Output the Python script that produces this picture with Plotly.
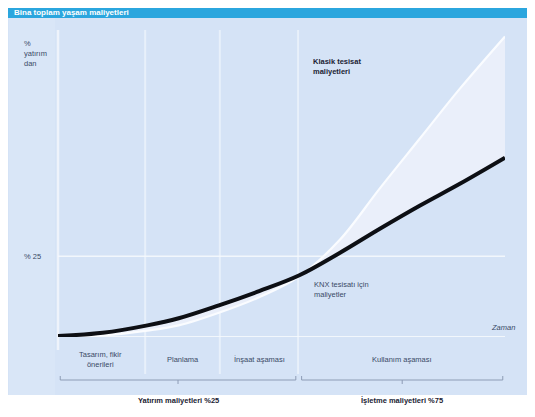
import plotly.graph_objects as go

# ---- data (time as % of life span, cost as % of total) ----
time_pct = [0, 10, 20, 27, 36, 45, 54, 63, 72, 81, 90, 100]
knx_cost = [0.3, 1.3, 3.6, 5.8, 9.8, 14.2, 19.1, 26.0, 33.5, 40.7, 47.5, 55.5]
classic_cost = [0.0, 0.5, 2.0, 3.6, 7.5, 12.3, 18.8, 30.0, 46.0, 61.5, 77.0, 93.0]

phase_bounds = [19.5, 36.2, 53.7]
y_tick_value = 25
y_tick_label = "% 25"
phase_labels = ["Tasarım, fikir<br>önerileri", "Planlama", "İnşaat aşaması", "Kullanım aşaması"]
phase_centers = [9.5, 28, 45, 77]
group_labels = ["Yatırım maliyetleri %25", "İşletme maliyetleri %75"]
group_spans = [(0.5, 53.2), (54.5, 99.5)]

# page body has an 8px margin, so the figure is sized to fill the rest of the window
OFF = 8
W, H = 535 - OFF, 417 - OFF
ML, MR, MT, MB = 58 - OFF, 30, 30 - OFF, 80
PW, PH = W - ML - MR, H - MT - MB
X0P, Y0P = ML + OFF, MT + OFF + PH  # window pixel of plot origin


def px(xp):
    return (xp - X0P) / PW


def py(yp):
    return (Y0P - yp) / PH


FONT = "Liberation Sans, Arial, sans-serif"
TXT = "#3a4a66"

fig = go.Figure()
fig.add_trace(go.Scatter(x=time_pct, y=classic_cost, mode="lines",
                         line=dict(color="#fafcff", width=2.2, shape="spline"),
                         hoverinfo="skip", showlegend=False))
fig.add_trace(go.Scatter(x=time_pct, y=knx_cost, mode="lines",
                         line=dict(color="#0d0f14", width=4, shape="spline"),
                         fill="tonexty", fillcolor="#eaeffa",
                         hoverinfo="skip", showlegend=False))

shapes = []
# panel background
shapes.append(dict(type="rect", xref="paper", yref="paper", x0=px(8), x1=px(535),
                   y0=py(395), y1=py(18), fillcolor="#d5e3f6", line_width=0, layer="below"))
# title bar
shapes.append(dict(type="rect", xref="paper", yref="paper", x0=px(8), x1=px(535),
                   y0=py(18), y1=py(8), fillcolor="#2ba6de", line_width=0, layer="below"))
# lighter column left of axis
shapes.append(dict(type="rect", xref="paper", yref="paper", x0=px(9), x1=px(55),
                   y0=py(395), y1=py(18), fillcolor="#d9e6f7", line_width=0, layer="below"))
# y axis line
shapes.append(dict(type="line", xref="paper", yref="paper", x0=0, x1=0,
                   y0=py(350), y1=py(30), line=dict(color="#eef3fb", width=2.5), layer="below"))
# phase separators
for b in phase_bounds:
    shapes.append(dict(type="line", xref="x", yref="paper", x0=b, x1=b,
                       y0=py(374), y1=py(30), line=dict(color="rgba(240,245,252,0.7)", width=2),
                       layer="below"))
# horizontal lines
for yv in [0, y_tick_value]:
    shapes.append(dict(type="line", xref="x", yref="y", x0=0, x1=100, y0=yv, y1=yv,
                       line=dict(color="rgba(245,248,253,0.9)", width=2 if yv == 0 else 1.5),
                       layer="below"))
# brackets
for (a, b) in group_spans:
    yb = py(380)
    shapes.append(dict(type="line", xref="x", yref="paper", x0=a, x1=b, y0=yb, y1=yb,
                       line=dict(color="#8d9cb5", width=1)))
    for e in (a, b):
        shapes.append(dict(type="line", xref="x", yref="paper", x0=e, x1=e, y0=yb, y1=py(376),
                           line=dict(color="#8d9cb5", width=1)))
    c = (a + b) / 2
    shapes.append(dict(type="line", xref="x", yref="paper", x0=c, x1=c, y0=yb, y1=py(384),
                       line=dict(color="#8d9cb5", width=1)))

ann = []
ann.append(dict(text="<b>Bina toplam yaşam maliyetleri</b>", xref="paper", yref="paper",
                x=px(12), y=py(13), xanchor="left", yanchor="middle", showarrow=False,
                font=dict(family=FONT, size=8, color="white")))
ann.append(dict(text="%<br>yatırım<br>dan", xref="paper", yref="paper", x=px(22), y=py(37),
                xanchor="left", yanchor="top", align="left", showarrow=False,
                font=dict(family=FONT, size=7.5, color=TXT)))
ann.append(dict(text=y_tick_label, xref="paper", yref="y", x=px(22), y=y_tick_value,
                xanchor="left", yanchor="middle", showarrow=False,
                font=dict(family=FONT, size=7.5, color=TXT)))
ann.append(dict(text="<b>Klasik tesisat<br>maliyetleri</b>", xref="paper", yref="paper",
                x=px(311), y=py(55), xanchor="left", yanchor="top", align="left", showarrow=False,
                font=dict(family=FONT, size=7.5, color="#1a2233")))
ann.append(dict(text="KNX tesisatı için<br>maliyetler", xref="paper", yref="paper",
                x=px(312), y=py(278), xanchor="left", yanchor="top", align="left", showarrow=False,
                font=dict(family=FONT, size=7.5, color=TXT)))
ann.append(dict(text="<i>Zaman</i>", xref="paper", yref="paper", x=px(517), y=py(327),
                xanchor="right", yanchor="middle", showarrow=False,
                font=dict(family=FONT, size=7.5, color=TXT)))
for lab, c in zip(phase_labels, phase_centers):
    ann.append(dict(text=lab, xref="x", yref="paper", x=c, y=py(359),
                    xanchor="center", yanchor="middle", showarrow=False,
                    font=dict(family=FONT, size=7.5, color=TXT)))
for lab, (a, b) in zip(group_labels, group_spans):
    ann.append(dict(text="<b>" + lab + "</b>", xref="x", yref="paper", x=(a + b) / 2, y=py(400),
                    xanchor="center", yanchor="middle", showarrow=False,
                    font=dict(family=FONT, size=7.5, color="#1a2233")))

fig.update_layout(
    width=W, height=H,
    margin=dict(l=ML, r=MR, t=MT, b=MB),
    paper_bgcolor="white", plot_bgcolor="rgba(0,0,0,0)",
    xaxis=dict(range=[0, 100], visible=False, fixedrange=True),
    yaxis=dict(range=[0, 95], visible=False, fixedrange=True),
    shapes=shapes, annotations=ann, showlegend=False,
)

fig.write_html("out.html", config={"displayModeBar": False})
